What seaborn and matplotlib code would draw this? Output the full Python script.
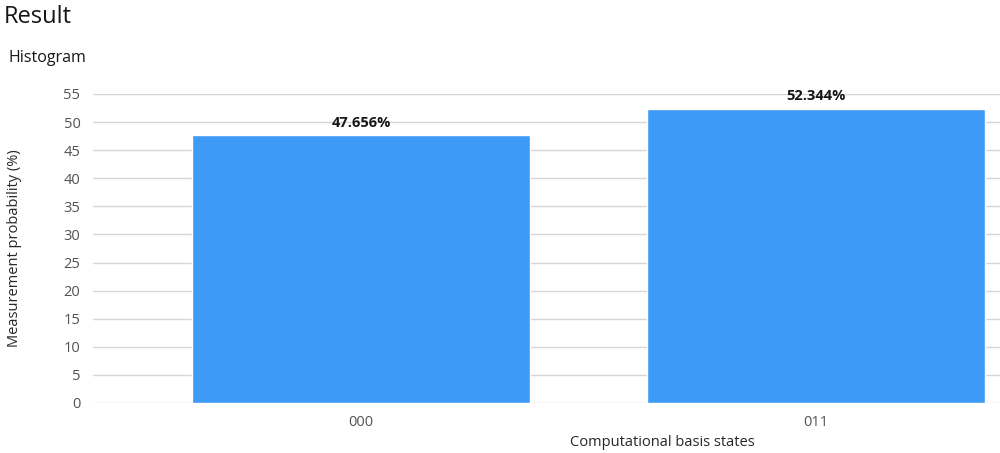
import matplotlib
matplotlib.use("Agg")
import matplotlib.pyplot as plt
import seaborn as sns
import pandas as pd

states = ["000", "011"]
probs = [47.656, 52.344]
yticks = list(range(0, 60, 5))

sns.set_theme(style="white")
plt.rcParams['font.family'] = ['Open Sans', 'DejaVu Sans']

fig = plt.figure(figsize=(10, 4.53), dpi=100)
ax = fig.add_axes([0.093, 0.1104, 0.907, 0.6821])

df = pd.DataFrame({"state": states, "prob": probs})
sns.barplot(data=df, x="state", y="prob", color="#3d9bf5", saturation=1,
            width=0.743, ax=ax)

ax.set_ylim(0, 55)
ax.set_xlim(-0.589, 1.404)
ax.set_yticks(yticks)
ax.yaxis.grid(True, color="#d6d6d6", linewidth=1)
ax.set_axisbelow(True)
for s in ax.spines.values():
    s.set_visible(False)
ax.tick_params(axis="both", length=0, labelsize=10.5, colors="#525252", pad=9)

for i, v in enumerate(probs):
    ax.text(i, v + 1.0, f"{v:.3f}%", ha="center", va="bottom",
            fontsize=10.5, fontweight="bold", color="#161616")

ax.set_xlabel("Computational basis states", fontsize=10.5, color="#262626")
ax.xaxis.set_label_coords(0.628, -0.105)
ax.set_ylabel("Measurement probability (%)", fontsize=10.5, color="#262626")
ax.yaxis.set_label_coords(-0.078, 0.5)

fig.text(0.004, 0.963, "Result", fontsize=17, color="#161616", va="center", ha="left")
fig.text(0.009, 0.872, "Histogram", fontsize=11.5, color="#161616", va="center", ha="left")

fig.savefig("out.png", dpi=100)
